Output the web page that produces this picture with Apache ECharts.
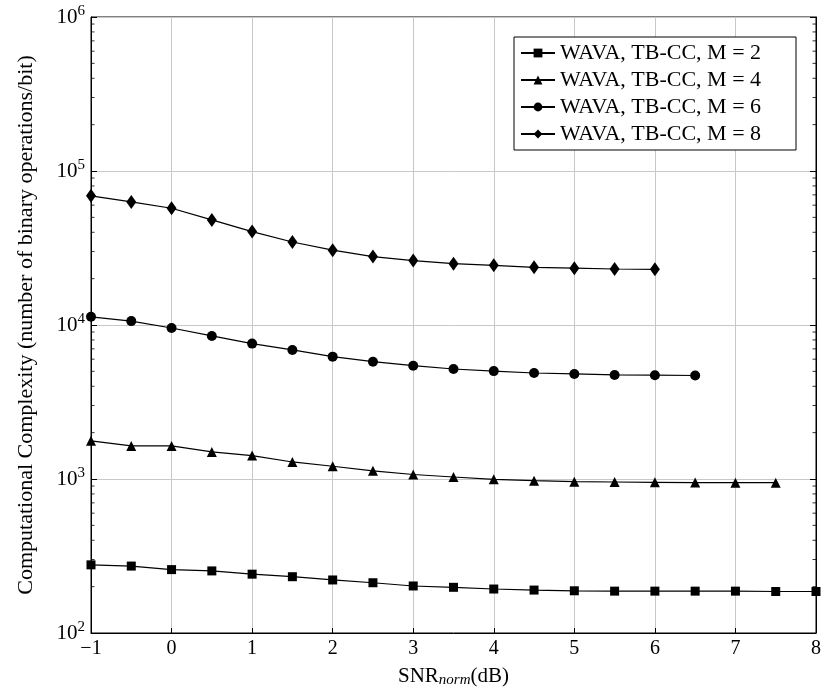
<!DOCTYPE html>
<html>
<head>
<meta charset="utf-8">
<script src="https://cdn.jsdelivr.net/npm/echarts@6/dist/echarts.min.js"></script>
<style>
html,body{margin:0;padding:0;background:#fff;}
#c{width:824px;height:700px;}
</style>
</head>
<body>
<div id="c"></div>
<script>
const snr = [-1, -0.5, 0, 0.5, 1, 1.5, 2, 2.5, 3, 3.5, 4, 4.5, 5, 5.5, 6, 6.5, 7, 7.5, 8];
const m2 = [277, 272, 258, 253, 241, 232, 221, 212, 202, 198, 193, 190, 188, 187, 187, 187, 187, 186, 186];
const m4 = [1770, 1640, 1640, 1500, 1420, 1290, 1210, 1130, 1070, 1030, 995, 975, 961, 956, 952, 948, 946, 946];
const m6 = [11300, 10600, 9560, 8490, 7570, 6890, 6230, 5780, 5440, 5180, 5020, 4880, 4810, 4740, 4720, 4700];
const m8 = [69000, 63000, 57300, 48100, 40400, 34600, 30600, 27800, 26200, 25000, 24400, 23700, 23400, 23100, 23000];
const seriesNames = ['WAVA, TB-CC, M = 2', 'WAVA, TB-CC, M = 4', 'WAVA, TB-CC, M = 6', 'WAVA, TB-CC, M = 8'];
const xTicks = [-1, 0, 1, 2, 3, 4, 5, 6, 7, 8];
const yDecades = [100, 1000, 10000, 100000, 1000000];
const minorMultipliers = [2, 3, 4, 5, 6, 7, 8, 9];

const FONT = 'Liberation Serif';
const xMin = -1, xMax = 8;

function pairs(vals) { return vals.map((v, i) => [snr[i], v]); }

const minorVals = [];
for (let d = 0; d < yDecades.length - 1; d++) {
  for (const m of minorMultipliers) minorVals.push([xMin, yDecades[d] * m]);
}

const chart = echarts.init(document.getElementById('c'), null, {renderer: 'canvas'});
const lineStyle = {color: '#000', width: 1.2};
const itemStyle = {color: '#000'};

function mk(name, data, symbol, size) {
  return {
    name, type: 'line', data: pairs(data), symbol, symbolSize: size,
    showSymbol: true, lineStyle, itemStyle, z: 5, animation: false
  };
}

chart.setOption({
  animation: false,
  backgroundColor: '#fff',
  grid: {left: 91, right: 6, top: 17, bottom: 67, show: true, borderColor: '#000', borderWidth: 1, backgroundColor: 'transparent'},
  legend: {
    left: 514, top: 37, orient: 'vertical',
    data: seriesNames,
    itemWidth: 34, itemHeight: 11, itemGap: 5,
    padding: [5, 10, 5, 6],
    borderColor: '#000', borderWidth: 1, backgroundColor: '#fff',
    textStyle: {fontFamily: FONT, fontSize: 22, color: '#000', width: 226, lineHeight: 22},
    selectedMode: false
  },
  xAxis: {
    type: 'value', min: xMin, max: xMax, interval: 1,
    name: 'SNR{sub|norm}(dB)', nameLocation: 'middle', nameGap: 32,
    nameTextStyle: {fontFamily: FONT, fontSize: 21, color: '#000',
      rich: {sub: {fontFamily: FONT, fontSize: 15, fontStyle: 'italic', color: '#000', padding: [8, 0, 0, 0]}}},
    axisLine: {show: true, onZero: false, lineStyle: {color: '#000'}},
    axisTick: {show: true, inside: true, length: 5, lineStyle: {color: '#000'}},
    axisLabel: {fontFamily: FONT, fontSize: 20, color: '#000', margin: 6,
      formatter: v => (v < 0 ? '\u2212' + Math.abs(v) : String(v))},
    splitLine: {show: true, lineStyle: {color: '#c8c8c8', width: 1}}
  },
  yAxis: [{
    type: 'log', logBase: 10, min: 100, max: 1000000,
    name: 'Computational Complexity (number of binary operations/bit)',
    nameLocation: 'middle', nameGap: 54,
    nameTextStyle: {fontFamily: FONT, fontSize: 22, color: '#000'},
    axisLine: {show: true, onZero: false, lineStyle: {color: '#000'}},
    axisTick: {show: true, inside: true, length: 6, lineStyle: {color: '#000'}},
    axisLabel: {fontFamily: FONT, fontSize: 21, color: '#000', margin: 6,
      formatter: v => '10{sup|' + Math.round(Math.log10(v)) + '}',
      rich: {sup: {fontFamily: FONT, fontSize: 15, color: '#000', padding: [0, 0, 11, 0]}}},
    splitLine: {show: true, lineStyle: {color: '#c8c8c8', width: 1}},
    minorTick: {show: false}
  }, {
    type: 'log', logBase: 10, min: 100, max: 1000000, position: 'right',
    axisLine: {show: true, onZero: false, lineStyle: {color: '#000'}},
    axisTick: {show: true, inside: true, length: 6, lineStyle: {color: '#000'}},
    axisLabel: {show: false},
    splitLine: {show: false}
  }],
  series: [
    mk(seriesNames[0], m2, 'rect', 9),
    mk(seriesNames[1], m4, 'triangle', 10),
    mk(seriesNames[2], m6, 'circle', 10),
    mk(seriesNames[3], m8, 'diamond', [10, 14]),
    {
      type: 'custom', data: minorVals, silent: true, z: 3, animation: false,
      renderItem: function (params, api) {
        const v = api.value(1);
        const p = api.coord([xMin, v]);
        const q = api.coord([xMax, v]);
        return {type: 'group', children: [
          {type: 'line', shape: {x1: p[0], y1: p[1], x2: p[0] + 3.5, y2: p[1]}, style: {stroke: '#000', lineWidth: 0.8}},
          {type: 'line', shape: {x1: q[0] - 3.5, y1: q[1], x2: q[0], y2: q[1]}, style: {stroke: '#000', lineWidth: 0.8}}
        ]};
      }
    }
  ]
});
</script>
</body>
</html>
